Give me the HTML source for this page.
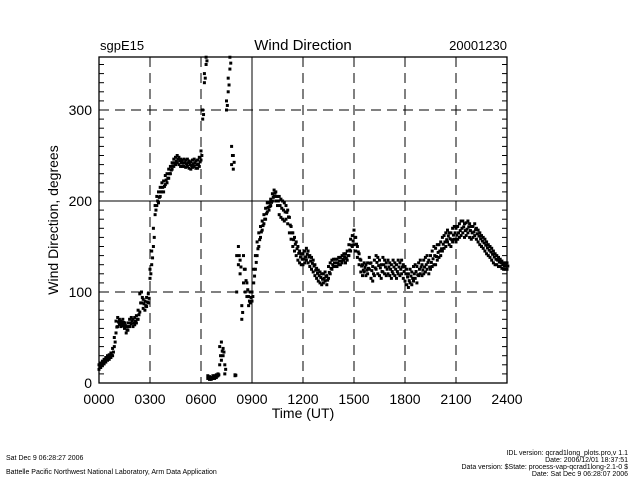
<!DOCTYPE html>
<html><head><meta charset="utf-8"><style>
html,body{margin:0;padding:0;background:#fff;}
svg{display:block;font-family:"Liberation Sans",sans-serif;}
</style></head><body>
<svg id="chart" width="640" height="480" viewBox="0 0 640 480" xmlns="http://www.w3.org/2000/svg">
<rect width="640" height="480" fill="#fff"/>
<text x="100" y="50" font-size="13">sgpE15</text>
<text x="303" y="50" font-size="15" text-anchor="middle">Wind Direction</text>
<text x="507" y="50" font-size="13" text-anchor="end">20001230</text>
<g id="grid"></g>
<g id="marks"></g>
<rect x="99" y="57" width="408" height="326" fill="none" stroke="#000" stroke-width="1.3"/>
<g id="axes"></g>
<text x="303" y="418" font-size="14" text-anchor="middle">Time (UT)</text>
<text transform="translate(58,220) rotate(-90)" font-size="14" text-anchor="middle">Wind Direction, degrees</text>
<text x="6" y="460" font-size="7">Sat Dec  9 06:28:27 2006</text>
<text x="6" y="474" font-size="7">Battelle Pacific Northwest National Laboratory, Arm Data Application</text>
<text x="628" y="455" font-size="7" text-anchor="end">IDL version: qcrad1long_plots.pro,v 1.1</text>
<text x="628" y="462" font-size="7" text-anchor="end">Date: 2006/12/01 18:37:51</text>
<text x="628" y="469" font-size="7" text-anchor="end">Data version: $State: process-vap-qcrad1long-2.1-0 $</text>
<text x="628" y="476" font-size="7" text-anchor="end">Date: Sat Dec  9 06:28:07 2006</text>
</svg>
<script>
const xTicks=[0,3,6,9,12,15,18,21,24];
const xTickLabels=["0000","0300","0600","0900","1200","1500","1800","2100","2400"];
const yTicks=[0,100,200,300];
// observations every 0.1 hour: lower and upper edge of the scatter band
const degreesLow=[
15,17,19,21,23,25,26,28,30,40,
55,62,64,62,63,60,55,58,62,65,
62,64,66,70,78,88,82,80,84,88,
115,130,150,185,195,198,205,210,210,218,
220,225,230,235,238,240,242,240,238,238,
238,237,238,236,235,237,238,236,236,238,
245,290,330,350,5,4,4,5,5,6,
8,20,25,30,10,300,320,345,240,250,
8,100,130,120,70,110,100,95,85,88,
90,110,125,140,150,160,168,175,180,188,
190,195,200,205,200,195,185,182,180,178,
180,175,165,158,150,145,140,135,132,130,
130,132,135,132,128,125,122,118,115,112,
110,108,110,112,108,115,120,125,128,128,
128,130,130,132,135,132,135,140,145,150,
152,145,138,130,122,118,122,118,120,125,
115,112,118,125,120,118,115,122,120,118,
120,118,115,120,118,115,120,118,120,115,
112,108,105,110,108,112,115,110,118,120,
118,120,122,125,120,125,128,130,130,135,
138,140,145,148,150,155,152,150,155,158,
155,158,160,162,165,160,162,165,160,158,
160,162,158,155,152,150,148,145,142,140,
138,135,132,130,130,128,128,126,125,125,
125];
const degreesHigh=[
20,22,24,26,28,30,31,33,38,50,
68,72,70,68,70,66,62,66,70,72,
70,72,74,80,98,100,92,90,94,98,
125,145,170,195,205,210,215,220,222,228,
230,235,238,242,246,248,250,248,246,245,
246,245,246,244,243,245,246,244,245,248,
255,300,340,358,8,7,6,8,8,9,
10,40,45,38,20,310,335,358,260,235,
9,140,150,135,85,140,125,110,95,100,
100,125,140,155,165,172,178,185,192,198,
198,202,208,212,210,205,205,202,200,198,
195,190,182,172,165,160,155,150,145,142,
142,145,148,145,140,138,135,130,126,124,
122,120,120,122,118,128,132,135,136,136,
136,138,138,140,142,142,145,152,158,162,
168,160,150,142,135,130,132,130,132,138,
132,128,135,140,138,135,130,138,135,132,
135,132,130,135,132,130,135,132,135,130,
128,125,120,125,122,128,130,128,132,135,
130,135,138,140,135,140,145,150,148,152,
152,155,160,162,165,168,165,165,170,172,
170,172,175,178,178,175,176,178,175,172,
172,175,170,168,165,162,160,158,155,152,
150,148,145,142,140,138,136,134,132,132,
132];
const times=degreesLow.map((_,i)=>i/10);
const X0=99,X1=507,Y0=383,YS=0.91;
const xs=h=>X0+(X1-X0)*h/24;
const ys=v=>Y0-YS*v;
const NS="http://www.w3.org/2000/svg";
function mk(tag,attrs,parent){const e=document.createElementNS(NS,tag);for(const k in attrs)e.setAttribute(k,attrs[k]);parent.appendChild(e);return e;}
const grid=document.getElementById('grid'),axes=document.getElementById('axes'),marks=document.getElementById('marks');
xTicks.forEach((t,i)=>{
  if(i>0&&i<xTicks.length-1){
    const l=mk('line',{x1:xs(t),x2:xs(t),y1:57,y2:383,stroke:'#000','stroke-width':1,'stroke-dasharray':t===9?'none':'10,6'},grid);
    
    
  }
  const tx=mk('text',{x:xs(t),y:404,'font-size':14,'text-anchor':'middle'},axes);
  tx.textContent=xTickLabels[i];
  
  
});
yTicks.forEach(t=>{
  if(t>0){
    const l=mk('line',{x1:99,x2:507,y1:ys(t),y2:ys(t),stroke:'#000','stroke-width':1,'stroke-dasharray':t===200?'none':'10,6'},grid);
    
    
  }
  const tx=mk('text',{x:92,y:ys(t)+5,'font-size':14,'text-anchor':'end'},axes);
  tx.textContent=String(t);
  
  
});
for(let v=10;v<=350;v+=10){
  const a=mk('line',{x1:99,x2:104,y1:ys(v),y2:ys(v),stroke:'#000'},axes);
  
  
  const b=mk('line',{x1:502,x2:507,y1:ys(v),y2:ys(v),stroke:'#000'},axes);
  
  
}
function dot(h,v){
  const r=mk('rect',{x:xs(h)-1.5,y:ys(v)-1.5,width:3,height:3,fill:'#000'},marks);
  
  
}
times.forEach((h,i)=>{
  const lo=degreesLow[i],hi=degreesHigh[i];
  dot(h,lo);
  dot(h,hi);
  if(Math.abs(hi-lo)<40){
    dot(h+0.05,(lo+hi)/2);
  }
});
</script>
</body></html>
